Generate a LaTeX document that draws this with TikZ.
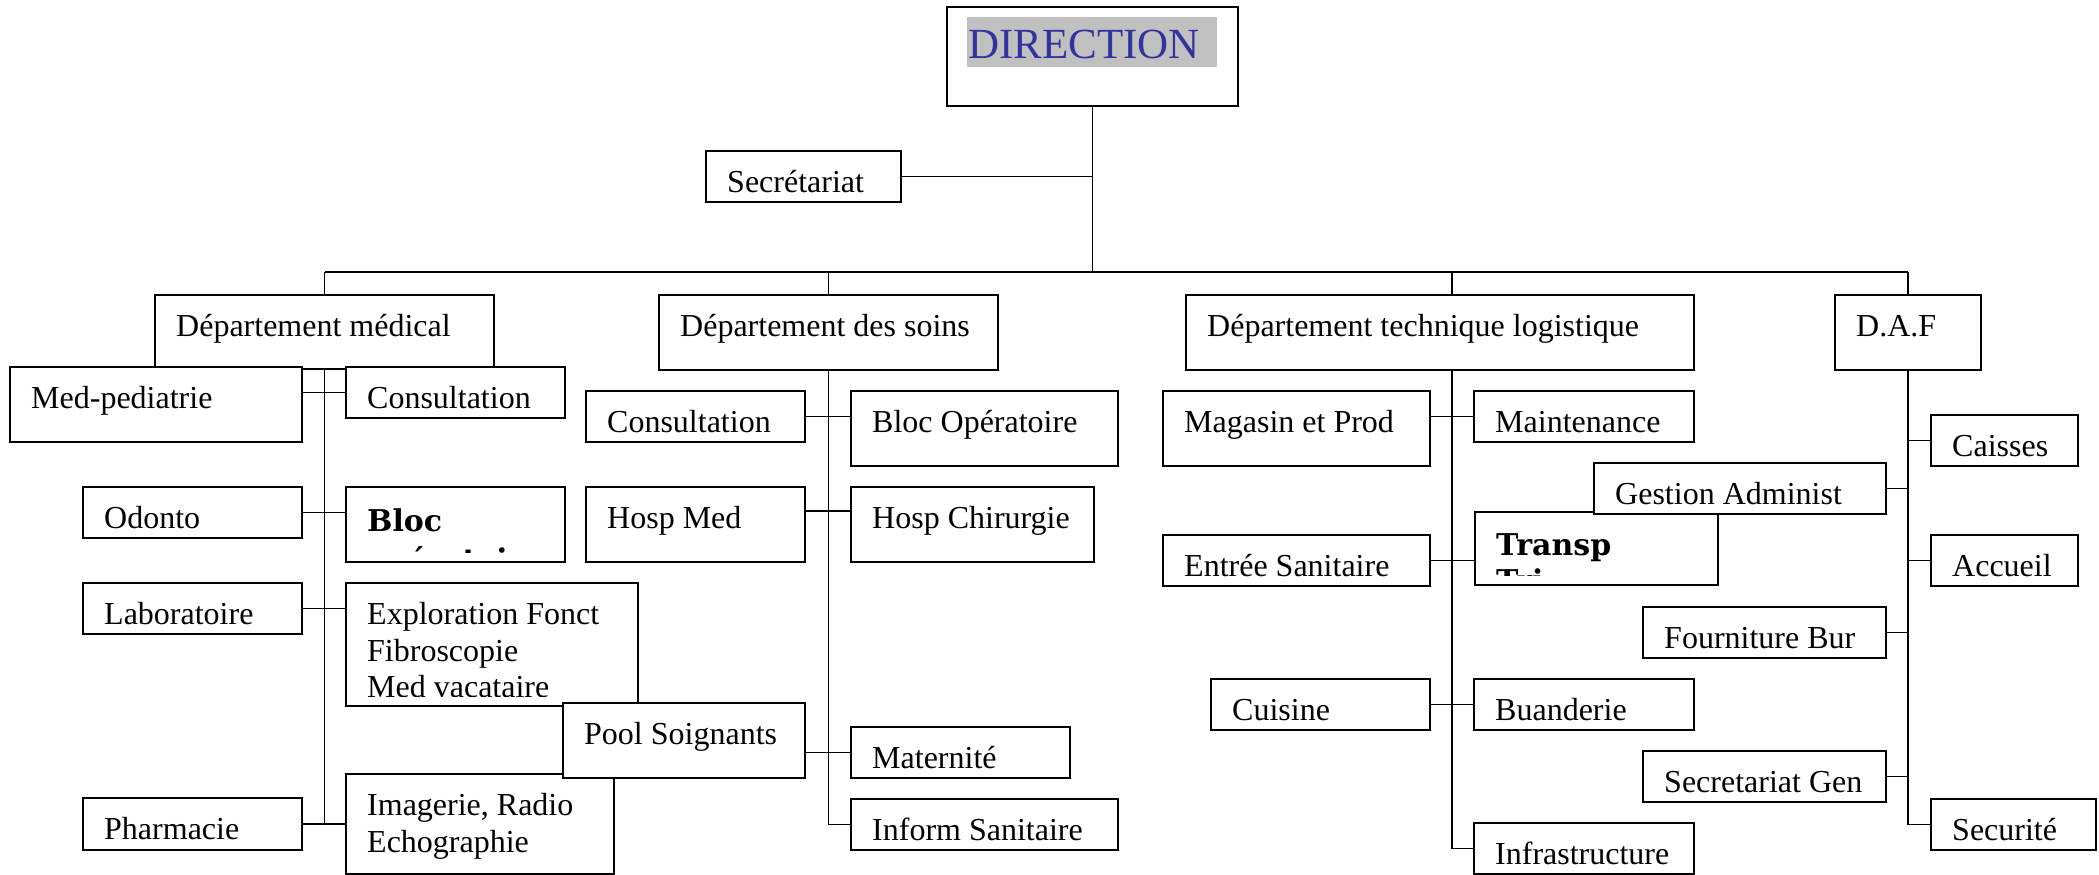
\documentclass[tikz,border=0pt]{standalone}
\usepackage{fontspec}
\setmainfont{Liberation Serif}
\newfontfamily\slabfont{DejaVu Serif}
\usetikzlibrary{fit}
\pgfdeclarelayer{bg}
\pgfsetlayers{bg,main}
\definecolor{dirblue}{RGB}{51,51,160}
\definecolor{hlgray}{RGB}{192,192,192}
\tikzset{
  box/.style={draw=black, line width=2.6pt, fill=white, inner sep=0pt, rectangle},
  conn/.style={draw=black, line width=1.9pt},
  txt/.style={inner sep=0pt, anchor=base west, font=\fontsize{32}{36}\selectfont},
  btxt/.style={inner sep=0pt, anchor=base west, font=\slabfont\bfseries\fontsize{30}{36}\selectfont},
}
% one-line box: name, x1, y1, x2, y2, text
\newcommand\bx[6]{%
  \node[box, fit={(#2,#3) (#4,#5)}] (#1) {};
  \begin{scope}
    \clip (#2+2,#3+2) rectangle (#4-2,#5-10);
    \node[txt] (#1-a) at (#2+21,#3+41) {#6};
  \end{scope}}
% two-line box: name, x1, y1, x2, y2, style, baseline offset, line1, line2
\newcommand\bxm[9]{%
  \node[box, fit={(#2,#3) (#4,#5)}] (#1) {};
  \begin{scope}
    \clip (#2+2,#3+2) rectangle (#4-2,#5-10);
    \node[#6] (#1-a) at (#2+21,#3+#7) {#8};
    \node[#6] (#1-b) at (#2+21,#3+#7+37) {#9};
  \end{scope}}
% bold two-line box: name, x1, y1, x2, y2, baseline offset, line1, line2, line spacing
\newcommand\bxb[9]{%
  \node[box, fit={(#2,#3) (#4,#5)}] (#1) {};
  \begin{scope}
    \clip (#2+2,#3+2) rectangle (#4-2,#5-10);
    \node[btxt] (#1-a) at (#2+21,#3+#6) {#7};
    \node[btxt] (#1-b) at (#2+21,#3+#6+#9) {#8};
  \end{scope}}
\begin{document}
\begin{tikzpicture}[x=1pt,y=-1pt]
\useasboundingbox (0,0) rectangle (2099,875);
\begin{pgfonlayer}{bg}
  \fill[white] (0,0) rectangle (2099,875);
\end{pgfonlayer}

% top
\node[box, fit={(947,7) (1238,106)}] (dir) {};
\fill[hlgray] (967,17) rectangle (1217,67);
\node[inner sep=0pt, anchor=base west, font=\fontsize{43}{50}\selectfont, text=dirblue] (dir-a) at (968,59) {DIRECTION};
\bx{secr}{706}{151}{901}{202}{Secrétariat}

% departments
\bx{deptmed}{155}{295}{494}{369}{Département médical}
\bx{soins}{659}{295}{998}{370}{Département des soins}
\bx{tech}{1186}{295}{1694}{370}{Département technique logistique}
\bx{daf}{1835}{295}{1981}{370}{D.A.F}

% medical
\bx{medped}{10}{367}{302}{442}{Med-pediatrie}
\bx{consmed}{346}{367}{565}{418}{Consultation}
\bx{odonto}{83}{487}{302}{538}{Odonto}
\bxb{blocmed}{346}{487}{565}{562}{44}{Bloc}{opératoire}{39}
\bx{labo}{83}{583}{302}{634}{Laboratoire}
\node[box, fit={(346,583) (638,706)}] (explo) {};
\begin{scope}
  \clip (348,585) rectangle (636,696);
  \node[txt] (explo-a) at (367,624) {Exploration Fonct};
  \node[txt] (explo-b) at (367,661) {Fibroscopie};
  \node[txt] (explo-c) at (367,697) {Med vacataire};
\end{scope}
\bx{pharm}{83}{798}{302}{850}{Pharmacie}
\bxm{imag}{346}{774}{614}{874}{txt}{41}{Imagerie, Radio}{Echographie}
\bx{pool}{563}{703}{805}{778}{Pool Soignants}

% soins
\bx{conssoins}{586}{391}{805}{442}{Consultation}
\bx{blocop}{851}{391}{1118}{466}{Bloc Opératoire}
\bx{hospmed}{586}{487}{805}{562}{Hosp Med}
\bx{hospchir}{851}{487}{1094}{562}{Hosp Chirurgie}
\bx{mater}{851}{727}{1070}{778}{Maternité}
\bx{inform}{851}{799}{1118}{850}{Inform Sanitaire}

% technique logistique
\bx{mag}{1163}{391}{1430}{466}{Magasin et Prod}
\bx{maint}{1474}{391}{1694}{442}{Maintenance}
\bx{entree}{1163}{535}{1430}{586}{Entrée Sanitaire}
\bxb{transp}{1475}{512}{1718}{585}{43}{Transp}{Tri}{36}
\bx{cuisine}{1211}{679}{1430}{730}{Cuisine}
\bx{buand}{1474}{679}{1694}{730}{Buanderie}
\bx{infra}{1474}{823}{1694}{874}{Infrastructure}

% DAF
\bx{caisses}{1931}{415}{2078}{466}{Caisses}
\bx{gestion}{1594}{463}{1886}{514}{Gestion Administ}
\bx{accueil}{1931}{535}{2078}{586}{Accueil}
\bx{fourn}{1643}{607}{1886}{658}{Fourniture Bur}
\bx{secgen}{1643}{751}{1886}{802}{Secretariat Gen}
\bx{secu}{1931}{799}{2096}{850}{Securité}

% connectors
\begin{pgfonlayer}{bg}
  \coordinate (bus) at (0,272);
  \coordinate (tx) at (1452,0);
  \draw[conn] (dir.south) -- (dir.south |- bus);
  \draw[conn] (secr.east) -- (secr.east -| dir.south);
  \draw[conn] (deptmed.north |- bus) -- (daf.north |- bus);
  \draw[conn] (deptmed.north |- bus) -- (deptmed.north);
  \draw[conn] (soins.north |- bus) -- (soins.north);
  \draw[conn] (tx |- bus) -- (tx |- tech.north);
  \draw[conn] (daf.north |- bus) -- (daf.north);
  % medical
  \draw[conn] (deptmed.south) -- (deptmed.south |- pharm.east);
  \draw[conn] (consmed.west -| medped.east) -- (consmed.west);
  \draw[conn] (odonto.east) -- (odonto.east -| blocmed.west);
  \draw[conn] (labo.east) -- (labo.east -| explo.west);
  \draw[conn] (pharm.east) -- (pharm.east -| imag.west);
  % soins
  \draw[conn] (soins.south) |- (inform.west);
  \draw[conn] (conssoins.east) -- (conssoins.east -| blocop.west);
  \draw[conn] ([yshift=-25pt]hospmed.north east) -- ([yshift=-25pt]hospchir.north west);
  \draw[conn] (pool.east |- mater.west) -- (mater.west);
  % technique
  \draw[conn] (tx |- tech.south) |- (infra.west);
  \draw[conn] (maint.west -| mag.east) -- (maint.west);
  \draw[conn] (entree.east) -- (entree.east -| transp.west);
  \draw[conn] (cuisine.east) -- (buand.west);
  % DAF
  \draw[conn] (daf.south) |- (secu.west);
  \draw[conn] (caisses.west) -- (caisses.west -| daf.south);
  \draw[conn] (gestion.east) -- (gestion.east -| daf.south);
  \draw[conn] (accueil.west) -- (accueil.west -| daf.south);
  \draw[conn] (fourn.east) -- (fourn.east -| daf.south);
  \draw[conn] (secgen.east) -- (secgen.east -| daf.south);
\end{pgfonlayer}
\end{tikzpicture}
\end{document}
